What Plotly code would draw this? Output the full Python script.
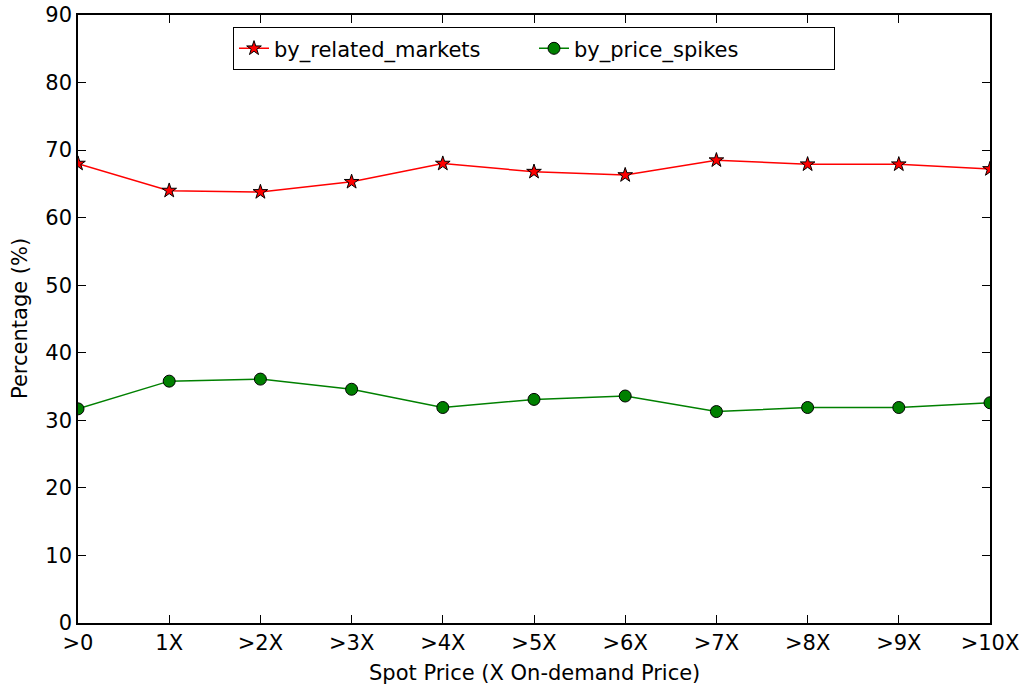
import plotly.graph_objects as go

categories = [">0", "1X", ">2X", ">3X", ">4X", ">5X", ">6X", ">7X", ">8X", ">9X", ">10X"]
by_related_markets = [68.0, 64.0, 63.8, 65.3, 68.0, 66.8, 66.3, 68.5, 67.9, 67.9, 67.2]
by_price_spikes = [31.7, 35.8, 36.1, 34.6, 31.9, 33.1, 33.6, 31.3, 31.9, 31.9, 32.6]
y_ticks = list(range(0, 91, 10))

fig = go.Figure()
fig.add_trace(go.Scatter(
    x=categories, y=by_related_markets, name="by_related_markets",
    mode="lines+markers",
    line=dict(color="red", width=1.5),
    marker=dict(symbol="star", size=11, color="red", line=dict(color="black", width=1)),
))
fig.add_trace(go.Scatter(
    x=categories, y=by_price_spikes, name="by_price_spikes",
    mode="lines+markers",
    line=dict(color="green", width=1.5),
    marker=dict(symbol="circle", size=12, color="green", line=dict(color="black", width=1)),
))

axis_style = dict(
    showgrid=False, zeroline=False, automargin=False,
    showline=True, linecolor="black", linewidth=1.5, mirror="ticks",
    ticks="inside", ticklen=8, tickcolor="black", tickwidth=1,
    tickfont=dict(size=21, color="black"), ticklabeloverflow="allow",
)

fig.update_xaxes(type="category", range=[0, 10], **axis_style)
fig.update_yaxes(range=[0, 90], tickvals=y_ticks, **axis_style)

# axis titles as annotations so they sit exactly where the reference has them
fig.add_annotation(
    text="Spot Price (X On-demand Price)", xref="paper", yref="paper",
    x=0.5, y=0, yshift=-50, yanchor="middle", showarrow=False,
    font=dict(size=21, color="black"),
)
fig.add_annotation(
    text="Percentage (%)", xref="paper", yref="paper",
    x=0, y=0.5, xshift=-58, xanchor="center", textangle=-90, showarrow=False,
    font=dict(size=21, color="black"),
)

fig.update_layout(
    width=1029, height=690,
    margin=dict(l=78, r=39, t=15, b=67),
    paper_bgcolor="white", plot_bgcolor="white",
    font=dict(family="DejaVu Sans", color="black"),
    legend=dict(
        orientation="h", x=0.5, xanchor="center", y=0.98, yanchor="top",
        bordercolor="black", borderwidth=1, bgcolor="white",
        font=dict(size=21), entrywidth=255, entrywidthmode="pixels",
    ),
)

# drop the browser's default 8px body margin so the figure fills the window
fig.write_html(
    "out.html",
    config={"displayModeBar": False},
    post_script="document.body.style.margin = '0';",
)
